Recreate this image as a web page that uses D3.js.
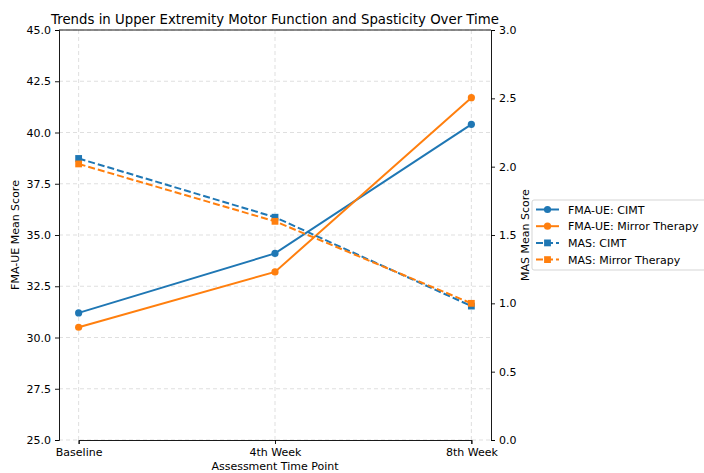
<!DOCTYPE html>
<html>
<head>
<meta charset="utf-8">
<script src="https://cdn.jsdelivr.net/npm/d3@7/dist/d3.min.js"></script>
<style>
  body { margin: 0; background: #fff; }
  svg { font-family: "DejaVu Sans", sans-serif; }
</style>
</head>
<body>
<div id="chart"></div>
<script>
// data
var timePoints = ["Baseline", "4th Week", "8th Week"];
var fmaCimt = [31.2, 34.1, 40.4];
var fmaMirror = [30.5, 33.2, 41.7];
var masCimt = [2.06, 1.63, 0.98];
var masMirror = [2.02, 1.60, 1.00];
var leftTicks = [25.0, 27.5, 30.0, 32.5, 35.0, 37.5, 40.0, 42.5, 45.0];
var rightTicks = [0.0, 0.5, 1.0, 1.5, 2.0, 2.5, 3.0];

var blue = "#1f77b4", orange = "#ff7f0e";

var margin = {top: 30, right: 213, bottom: 33, left: 59};
var width = 704 - margin.left - margin.right,
	height = 473 - margin.top - margin.bottom;

var svg = d3.select("#chart")
	.append("svg")
	.attr("width", 704)
	.attr("height", 473);

var g = svg.append("g")
	.attr("transform", "translate(" + margin.left + "," + margin.top + ")");

// matplotlib keeps a 5% margin on each side of the 0..2 index range
var pad = width * 0.1 / 2.2;
var x = d3.scalePoint()
	.domain(timePoints)
	.range([pad, width - pad]);

var yL = d3.scaleLinear().domain([25, 45]).range([height, 0]);
var yR = d3.scaleLinear().domain([0, 3]).range([height, 0]);

// grid
g.append("g").selectAll("line")
	.data(leftTicks)
	.enter().append("line")
	.attr("x1", 0).attr("x2", width)
	.attr("y1", function(d){ return yL(d); })
	.attr("y2", function(d){ return yL(d); })
	.attr("stroke", "#b0b0b0").attr("stroke-opacity", 0.5)
	.attr("stroke-dasharray", "4,3").attr("stroke-width", 0.8);

g.append("g").selectAll("line")
	.data(timePoints)
	.enter().append("line")
	.attr("y1", 0).attr("y2", height)
	.attr("x1", function(d){ return x(d); })
	.attr("x2", function(d){ return x(d); })
	.attr("stroke", "#b0b0b0").attr("stroke-opacity", 0.5)
	.attr("stroke-dasharray", "4,3").attr("stroke-width", 0.8);

// axes
var xAxis = g.append("g")
	.attr("transform", "translate(0," + height + ")")
	.call(d3.axisBottom(x).tickSize(4).tickPadding(4));

var leftAxis = g.append("g")
	.call(d3.axisLeft(yL).tickValues(leftTicks).tickFormat(d3.format(".1f")).tickSize(4).tickPadding(4));

var rightAxis = g.append("g")
	.attr("transform", "translate(" + width + ",0)")
	.call(d3.axisRight(yR).tickValues(rightTicks).tickFormat(d3.format(".1f")).tickSize(4).tickPadding(4));

g.append("line").attr("x1", 0).attr("x2", width).attr("y1", 0).attr("y2", 0)
	.attr("stroke", "#000").attr("stroke-width", 0.9);

[xAxis, leftAxis, rightAxis].forEach(function(a){
	a.attr("font-family", null).attr("font-size", null);
	a.selectAll("text").style("font-size", "11px").attr("fill", "#000");
	a.selectAll("line").attr("stroke", "#000").attr("stroke-width", 0.9);
	a.select(".domain").attr("stroke", "#000").attr("stroke-width", 0.9);
});

// series
var series = [
	{name: "FMA-UE: CIMT", values: fmaCimt, y: yL, color: blue, dash: null, marker: "circle"},
	{name: "FMA-UE: Mirror Therapy", values: fmaMirror, y: yL, color: orange, dash: null, marker: "circle"},
	{name: "MAS: CIMT", values: masCimt, y: yR, color: blue, dash: "7,3", marker: "square"},
	{name: "MAS: Mirror Therapy", values: masMirror, y: yR, color: orange, dash: "7,3", marker: "square"}
];

function drawMarker(sel, s, cx, cy){
	if(s.marker == "circle"){
		sel.append("circle").attr("cx", cx).attr("cy", cy).attr("r", 3.6).attr("fill", s.color);
	}else{
		sel.append("rect").attr("x", cx - 3.4).attr("y", cy - 3.4)
			.attr("width", 6.8).attr("height", 6.8).attr("fill", s.color);
	}
}

series.forEach(function(s){
	var line = d3.line()
		.x(function(d, i){ return x(timePoints[i]); })
		.y(function(d){ return s.y(d); });
	var sg = g.append("g");
	sg.append("path")
		.datum(s.values)
		.attr("d", line)
		.attr("fill", "none")
		.attr("stroke", s.color)
		.attr("stroke-width", 2)
		.attr("stroke-dasharray", s.dash);
	s.values.forEach(function(v, i){
		drawMarker(sg, s, x(timePoints[i]), s.y(v));
	});
});

// labels
svg.append("text")
	.attr("x", margin.left + width / 2).attr("y", 24)
	.attr("text-anchor", "middle").style("font-size", "13.3px")
	.text("Trends in Upper Extremity Motor Function and Spasticity Over Time");

svg.append("text")
	.attr("x", margin.left + width / 2).attr("y", 470)
	.attr("text-anchor", "middle").style("font-size", "11px")
	.text("Assessment Time Point");

svg.append("text")
	.attr("transform", "translate(19," + (margin.top + height / 2) + ") rotate(-90)")
	.attr("text-anchor", "middle").style("font-size", "11px")
	.text("FMA-UE Mean Score");

svg.append("text")
	.attr("transform", "translate(529," + (margin.top + height / 2) + ") rotate(-90)")
	.attr("text-anchor", "middle").style("font-size", "11px")
	.text("MAS Mean Score");

// legend
var legend = svg.append("g").attr("transform", "translate(532,200)");
legend.append("rect")
	.attr("x", 0).attr("y", 0).attr("width", 180).attr("height", 70)
	.attr("rx", 2).attr("fill", "#fff").attr("fill-opacity", 0.8)
	.attr("stroke", "#d0d0d0").attr("stroke-width", 0.9);

series.forEach(function(s, i){
	var ly = 9.5 + i * 16.7;
	var item = legend.append("g");
	item.append("line")
		.attr("x1", 4).attr("x2", 27).attr("y1", ly).attr("y2", ly)
		.attr("stroke", s.color).attr("stroke-width", 2)
		.attr("stroke-dasharray", s.dash);
	drawMarker(item, s, 15.5, ly);
	item.append("text")
		.attr("x", 36).attr("y", ly + 4)
		.style("font-size", "11px")
		.text(s.name);
});
</script>
</body>
</html>
